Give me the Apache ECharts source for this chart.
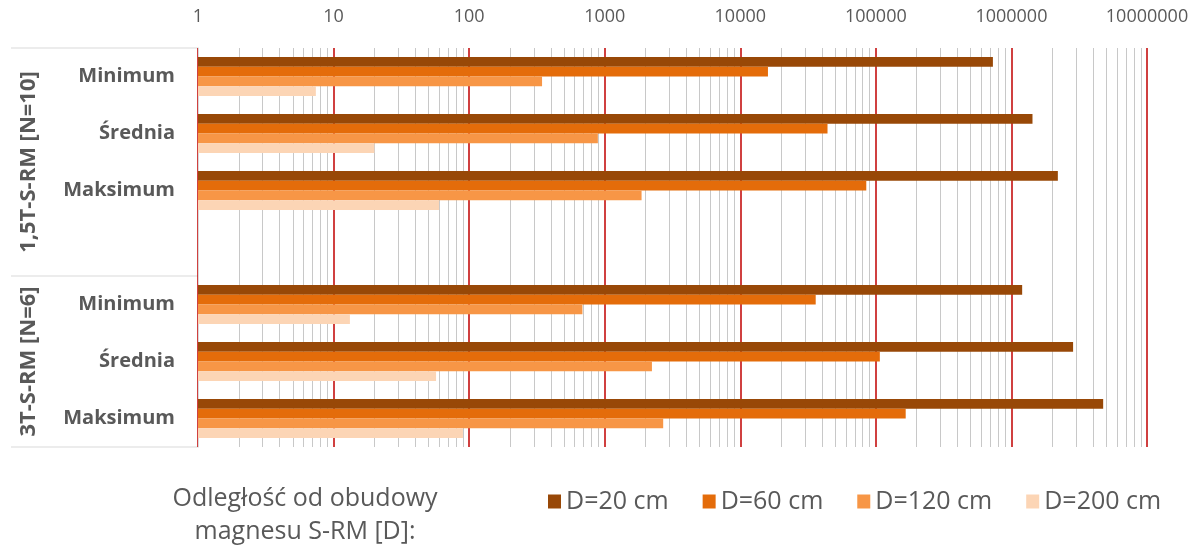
<!DOCTYPE html>
<html style="height: 100%">
<head>
    <meta charset="utf-8">
    <script src="https://cdn.jsdelivr.net/npm/echarts@6/dist/echarts.min.js"></script>
</head>
<body style="height: 100%; margin: 0; background: #fff;">
<div id="container" style="width: 1194px; height: 547px;"></div>
<script type="text/javascript">
    // kategorie (pusta pozycja rozdziela grupy)
    var categories = ['Minimum', 'Średnia', 'Maksimum', '', 'Minimum', 'Średnia', 'Maksimum'];
    var groups = ['1,5T-S-RM [N=10]', '3T-S-RM [N=6]'];
    var groupSizes = [4, 3];
    var seriesNames = ['D=20 cm', 'D=60 cm', 'D=120 cm', 'D=200 cm'];

    // wartości (skala log)
    var d20  = [730000, 1430000, 2200000, null, 1200000, 2850000, 4750000];
    var d60  = [16000, 44000, 85000, null, 36000, 107000, 166000];
    var d120 = [345, 890, 1870, null, 685, 2230, 2700];
    var d200 = [7.4, 20, 60, null, 13.2, 57, 90];

    var colors = ['#984807', '#E46C0A', '#F79646', '#FCD5B5'];
    var textColor = '#595959';
    var font = 'Open Sans';

    // siatka
    var gLeft = 198, gTop = 48, gRight = 47, gBottom = 100;
    var W = 1194, H = 547;
    var slot = (H - gBottom - gTop) / categories.length;

    // linie pomocnicze 2..9 w każdej dekadzie
    var minorLines = [];
    for (var d = 0; d < 7; d++) {
        for (var m = 2; m <= 9; m++) {
            minorLines.push({xAxis: m * Math.pow(10, d)});
        }
    }

    var dom = document.getElementById('container');
    var myChart = echarts.init(dom);

    var graphics = [];
    // linie oddzielające grupy
    var k = 0;
    var bounds = [0];
    groupSizes.forEach(function (n) { k += n; bounds.push(k); });
    bounds.forEach(function (b) {
        graphics.push({
            type: 'line',
            shape: {x1: 11, y1: gTop + b * slot, x2: gLeft, y2: gTop + b * slot},
            style: {stroke: '#D9D9D9', lineWidth: 1}
        });
    });
    // etykiety grup (pionowe)
    for (var i = 0; i < groups.length; i++) {
        var yc = gTop + (bounds[i] + bounds[i + 1]) / 2 * slot;
        graphics.push({
            type: 'text',
            x: 29, y: yc,
            rotation: Math.PI / 2,
            style: {
                text: groups[i], fill: textColor, font: 'bold 22px "' + font + '"',
                align: 'center', verticalAlign: 'middle'
            }
        });
    }
    // opis legendy
    graphics.push({
        type: 'text',
        x: 305, y: 515,
        style: {
            text: 'Odległość od obudowy\nmagnesu S-RM [D]:', fill: textColor,
            font: '25px "' + font + '"', align: 'center', verticalAlign: 'middle',
            lineHeight: 33
        }
    });

    function barSeries(name, data, color) {
        return {
            name: name,
            type: 'bar',
            data: data,
            barGap: '0%',
            barCategoryGap: '32%',
            itemStyle: {color: color},
            z: 3
        };
    }

    var option = {
        animation: false,
        textStyle: {fontFamily: font},
        color: colors,
        grid: {left: gLeft, top: gTop, right: gRight, bottom: gBottom, containLabel: false},
        legend: {
            data: seriesNames,
            left: 543, top: 484,
            icon: 'rect',
            itemWidth: 13, itemHeight: 14,
            itemGap: 34,
            textStyle: {color: textColor, fontSize: 25, fontFamily: font}
        },
        xAxis: {
            type: 'log',
            logBase: 10,
            position: 'top',
            min: 1,
            max: 10000000,
            splitNumber: 7,
            axisLine: {show: false},
            axisTick: {show: false},
            axisLabel: {
                color: textColor, fontSize: 18, margin: 22,
                formatter: function (v) { return String(Math.round(v)); }
            },
            splitLine: {show: true, lineStyle: {color: '#C00000', width: 1.5}}
        },
        yAxis: {
            type: 'category',
            inverse: true,
            data: categories,
            axisLine: {show: true, lineStyle: {color: '#D9D9D9'}},
            axisTick: {show: false},
            axisLabel: {color: textColor, fontSize: 20, fontWeight: 'bold', margin: 23}
        },
        graphic: graphics,
        series: [
            barSeries(seriesNames[0], d20, colors[0]),
            barSeries(seriesNames[1], d60, colors[1]),
            barSeries(seriesNames[2], d120, colors[2]),
            barSeries(seriesNames[3], d200, colors[3]),
            {
                name: 'siatka',
                type: 'line',
                data: [],
                silent: true,
                markLine: {
                    silent: true,
                    z: 1,
                    symbol: 'none',
                    label: {show: false},
                    lineStyle: {color: '#C8C8C8', width: 1, type: 'solid'},
                    data: minorLines
                }
            }
        ]
    };

    myChart.setOption(option);
</script>
</body>
</html>
